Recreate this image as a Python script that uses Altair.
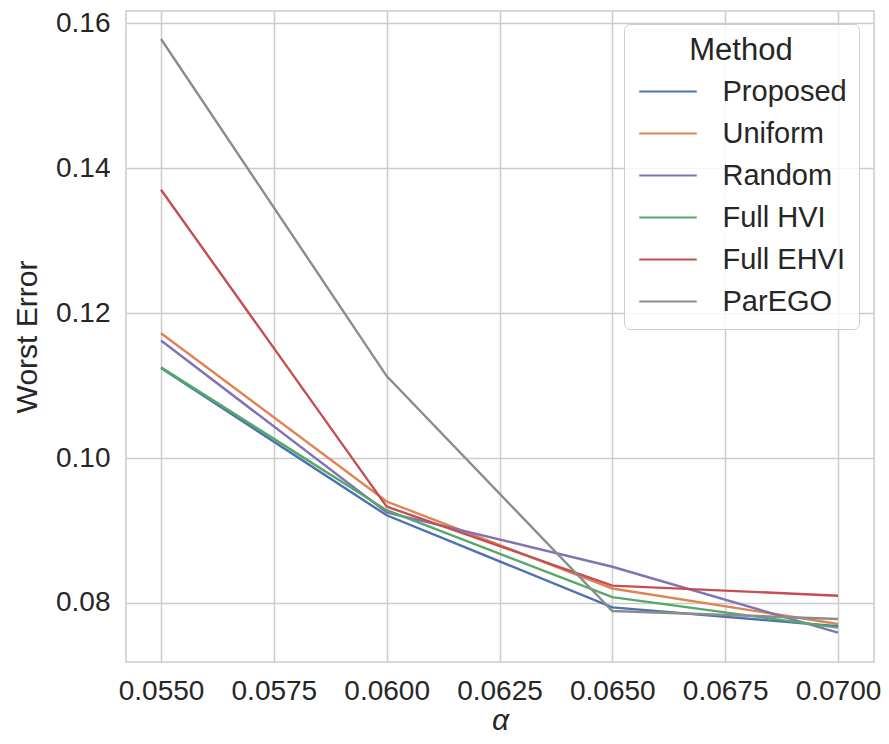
import altair as alt
import pandas as pd

alphas = [0.055, 0.060, 0.065, 0.070]
methods = ["Proposed", "Uniform", "Random", "Full HVI", "Full EHVI", "ParEGO"]
proposed = [0.1124, 0.0921, 0.0794, 0.0768]
uniform = [0.1172, 0.0940, 0.0820, 0.0771]
random_ = [0.1162, 0.0925, 0.0850, 0.0759]
full_hvi = [0.1125, 0.0928, 0.0808, 0.0766]
full_ehvi = [0.1370, 0.0933, 0.0824, 0.0810]
parego = [0.1578, 0.1113, 0.0789, 0.0778]
colors = ["#4c72b0", "#dd8452", "#8172b3", "#55a868", "#c44e52", "#8c8c8c"]
x_ticks = [0.055, 0.0575, 0.060, 0.0625, 0.065, 0.0675, 0.070]
y_ticks = [0.08, 0.10, 0.12, 0.14, 0.16]

series = [proposed, uniform, random_, full_hvi, full_ehvi, parego]
rows = []
for i, (m, vals) in enumerate(zip(methods, series)):
    for a, v in zip(alphas, vals):
        rows.append({"alpha": a, "err": v, "Method": m, "ord": i})
df = pd.DataFrame(rows)

FONT = "Liberation Sans, Arial, sans-serif"

chart = alt.Chart(df).mark_line(strokeWidth=2.4).encode(
    x=alt.X("alpha:Q", title="α",
            scale=alt.Scale(domain=[0.054224, 0.070798], nice=False, zero=False),
            axis=alt.Axis(values=x_ticks, format=".4f", titleFontStyle="italic",
                          labelPadding=15, titlePadding=0)),
    y=alt.Y("err:Q", title="Worst Error",
            scale=alt.Scale(domain=[0.07186, 0.16166], nice=False, zero=False),
            axis=alt.Axis(values=y_ticks, format=".2f", titlePadding=13)),
    color=alt.Color("Method:N", scale=alt.Scale(domain=methods, range=colors),
                    sort=methods,
                    legend=alt.Legend(orient="none", legendX=498, legendY=13,
                                      fillColor="rgba(255,255,255,0.8)",
                                      strokeColor="#cccccc", cornerRadius=6,
                                      padding=12, titleFontSize=31,
                                      titleFontWeight="normal", labelFontSize=29,
                                      titleAnchor="middle", titlePadding=10,
                                      symbolType="M-2.5,0L2.5,0", symbolSize=529,
                                      symbolStrokeWidth=2, symbolOffset=17.5,
                                      labelOffset=40,
                                      rowPadding=12, titleColor="#262626",
                                      labelColor="#262626", titleFont=FONT,
                                      labelFont=FONT)),
    detail="ord:O",
).properties(
    width=748, height=651,
    autosize=alt.AutoSizeParams(type="none"),
    padding={"left": 118, "top": 3, "right": 7, "bottom": 72},
).configure_view(
    stroke="#cccccc", strokeWidth=1.5
).configure_axis(
    grid=True, gridColor="#cccccc", gridWidth=1.5, domain=False, ticks=False,
    labelFont=FONT, labelFontSize=28, labelColor="#262626", labelPadding=16,
    titleFont=FONT, titleFontSize=30, titleColor="#262626", titleFontWeight="normal",
)

chart.save("out.html", embed_options={"renderer": "svg", "actions": False})
